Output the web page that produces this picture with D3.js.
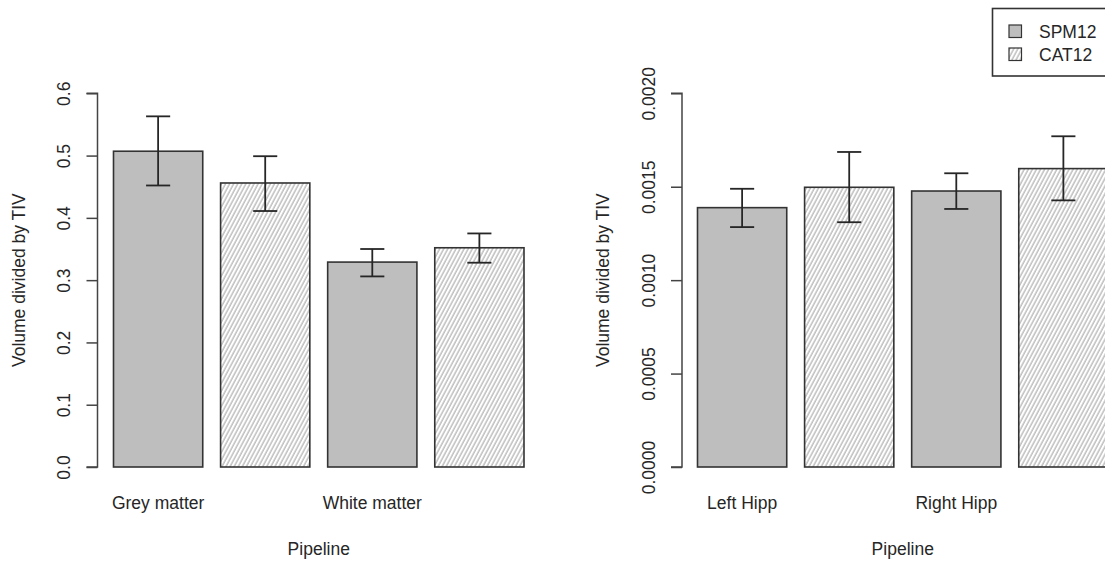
<!DOCTYPE html>
<html>
<head>
<meta charset="utf-8">
<script src="https://cdn.jsdelivr.net/npm/d3@7"></script>
<style>
  html, body { margin: 0; padding: 0; background: #fff; }
  svg { display: block; font-family: "Liberation Sans", Arial, sans-serif; }
</style>
</head>
<body>
<svg id="chart" width="1105" height="562"></svg>
<script>
// Bars in order: SPM12, CAT12, SPM12, CAT12
const pipelines = ["SPM12", "CAT12", "SPM12", "CAT12"];

// Left panel: whole-tissue volumes / TIV
const tissueNames = ["Grey matter", "", "White matter", ""];
const tissueMean = [0.507, 0.456, 0.329, 0.352];
const tissueLow  = [0.452, 0.411, 0.306, 0.328];
const tissueHigh = [0.563, 0.499, 0.350, 0.375];
const tissueTicks = [0, 0.1, 0.2, 0.3, 0.4, 0.5, 0.6];

// Right panel: hippocampal volumes / TIV
const hippNames = ["Left Hipp", "", "Right Hipp", ""];
const hippMean = [0.001388, 0.001497, 0.001477, 0.001597];
const hippLow  = [0.001284, 0.001310, 0.001381, 0.001427];
const hippHigh = [0.001489, 0.001686, 0.001572, 0.001770];
const hippTicks = [0, 0.0005, 0.0010, 0.0015, 0.0020];

const legendLabels = ["SPM12", "CAT12"];

const svg = d3.select("#chart");
const ink = "#262626";
const solidFill = "#bebebe";

// diagonal hatch used for CAT12 bars
const defs = svg.append("defs");
const pat = defs.append("pattern")
  .attr("id", "hatch")
  .attr("patternUnits", "userSpaceOnUse")
  .attr("width", 3.6).attr("height", 10)
  .attr("patternTransform", "rotate(28)");
pat.append("rect").attr("width", 3.6).attr("height", 10).attr("fill", "#fff");
pat.append("line")
  .attr("x1", 1).attr("y1", 0).attr("x2", 1).attr("y2", 10)
  .attr("stroke", "#a8a8a8").attr("stroke-width", 1.1);

const fillFor = p => p === "SPM12" ? solidFill : "url(#hatch)";

// R-style bar positions: bar i spans [0.2 + 1.2 i, 1.2 + 1.2 i]
const barLeft = i => 0.2 + 1.2 * i;

function panel(opt) {
  const x = d3.scaleLinear().domain([0.2, 4.8]).range(opt.xRange);
  const y = d3.scaleLinear().domain(opt.yDomain).range([467, 93.3]);
  const g = svg.append("g");

  // bars
  g.selectAll("rect.bar").data(opt.mean).join("rect")
    .attr("class", "bar")
    .attr("x", (d, i) => x(barLeft(i)))
    .attr("width", (d, i) => x(barLeft(i) + 1) - x(barLeft(i)))
    .attr("y", d => y(d))
    .attr("height", d => y(0) - y(d))
    .attr("fill", (d, i) => fillFor(pipelines[i]))
    .attr("stroke", "#333").attr("stroke-width", 1.6);

  // error bars
  const capHalf = 0.135;
  const eb = g.selectAll("g.err").data(opt.mean.map((m, i) => ({
    c: barLeft(i) + 0.5, lo: opt.low[i], hi: opt.high[i]
  }))).join("g").attr("class", "err")
    .attr("stroke", ink).attr("stroke-width", 1.8);
  eb.append("line")
    .attr("x1", d => x(d.c)).attr("x2", d => x(d.c))
    .attr("y1", d => y(d.lo)).attr("y2", d => y(d.hi));
  eb.append("line")
    .attr("x1", d => x(d.c - capHalf)).attr("x2", d => x(d.c + capHalf))
    .attr("y1", d => y(d.hi)).attr("y2", d => y(d.hi));
  eb.append("line")
    .attr("x1", d => x(d.c - capHalf)).attr("x2", d => x(d.c + capHalf))
    .attr("y1", d => y(d.lo)).attr("y2", d => y(d.lo));

  // y axis
  const axis = d3.axisLeft(y).tickValues(opt.ticks)
    .tickSize(11).tickPadding(0).tickFormat(d3.format(opt.fmt));
  const ag = g.append("g").attr("transform", `translate(${opt.axisX},0)`).call(axis);
  ag.select(".domain").attr("stroke", "#444").attr("stroke-width", 1.5)
    .attr("d", `M-11,${y(opt.yDomain[0])}H0V${y(opt.yDomain[1])}H-11`);
  ag.selectAll(".tick line").attr("stroke", "#444").attr("stroke-width", 1.5);
  ag.selectAll(".tick text")
    .attr("x", 0).attr("y", 0).attr("dy", null)
    .attr("transform", `translate(${opt.tickLabelX - opt.axisX},0) rotate(-90)`)
    .attr("text-anchor", "middle").attr("dominant-baseline", "central")
    .attr("fill", ink).attr("font-size", 17.5);
  ag.attr("font-family", null);

  // category labels under bars
  g.selectAll("text.cat").data(opt.names).join("text")
    .attr("class", "cat")
    .attr("x", (d, i) => x(barLeft(i) + 0.5))
    .attr("y", 509)
    .attr("text-anchor", "middle")
    .attr("fill", ink).attr("font-size", 17.5)
    .text(d => d);

  // axis titles
  g.append("text")
    .attr("x", x(2.5)).attr("y", 555)
    .attr("text-anchor", "middle").attr("fill", ink).attr("font-size", 17.5)
    .text("Pipeline");
  g.append("text")
    .attr("transform", `translate(${opt.titleX},${y((opt.yDomain[0] + opt.yDomain[1]) / 2)}) rotate(-90)`)
    .attr("text-anchor", "middle").attr("dominant-baseline", "central")
    .attr("fill", ink).attr("font-size", 17.5)
    .text("Volume divided by TIV");
}

panel({
  xRange: [113.5, 524], yDomain: [0, 0.6], ticks: tissueTicks, fmt: ".1f",
  mean: tissueMean, low: tissueLow, high: tissueHigh, names: tissueNames,
  axisX: 97.5, tickLabelX: 64, titleX: 19
});

panel({
  xRange: [697.5, 1108], yDomain: [0, 0.002], ticks: hippTicks, fmt: ".4f",
  mean: hippMean, low: hippLow, high: hippHigh, names: hippNames,
  axisX: 682, tickLabelX: 649, titleX: 603
});

// legend
const lg = svg.append("g");
lg.append("rect")
  .attr("x", 992.5).attr("y", 8.5).attr("width", 140).attr("height", 67.5)
  .attr("fill", "#fff").attr("stroke", "#333").attr("stroke-width", 1.6);
const li = lg.selectAll("g.item").data(legendLabels).join("g")
  .attr("class", "item")
  .attr("transform", (d, i) => `translate(1009,${25 + i * 23})`);
li.append("rect")
  .attr("width", 12.5).attr("height", 12.5)
  .attr("fill", d => fillFor(d))
  .attr("stroke", "#333").attr("stroke-width", 1.2);
li.append("text")
  .attr("x", 30).attr("y", 6.5)
  .attr("dominant-baseline", "central")
  .attr("fill", ink).attr("font-size", 17.5)
  .text(d => d);
</script>
</body>
</html>
